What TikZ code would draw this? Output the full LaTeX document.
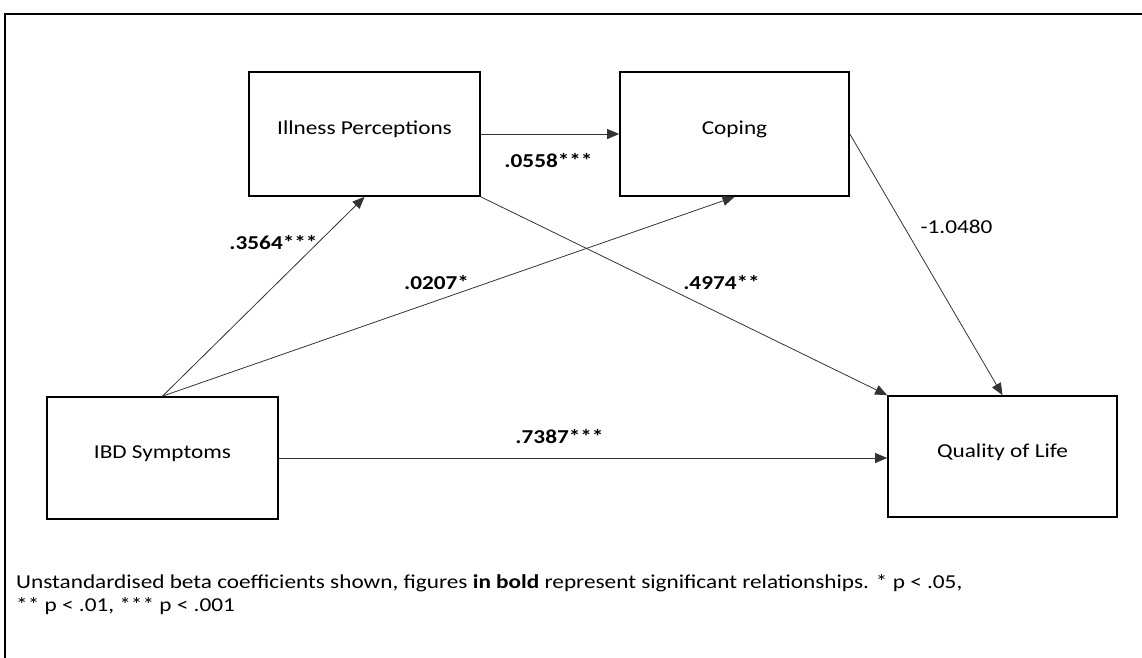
\documentclass[tikz,border=0pt]{standalone}
\usepackage{fontspec}
\setmainfont{Carlito}[FakeStretch=1.18]
\usetikzlibrary{arrows.meta}
\begin{document}
\begin{tikzpicture}[x=1pt,y=-1pt,
  varbox/.style={draw=black,line width=1.7pt,rectangle,inner sep=0pt,
    text height=15pt,text depth=14pt,
    font=\fontsize{19.7}{23}\selectfont},
  path/.style={draw=black!80,line width=0.8pt,-{Triangle[length=12pt,width=10pt]}},
  coef/.style={font=\fontsize{19.7}{23}\selectfont\bfseries,inner sep=0pt},
  plain/.style={font=\fontsize{19.7}{23}\selectfont,inner sep=0pt}]
\useasboundingbox (0,0) rectangle (1142,657);
% outer frame (runs off the right and bottom edges)
\draw[line width=1.6pt] (1150,14) -- (5,14) -- (5,665);

% variables
\node[varbox,minimum width=231pt,minimum height=124pt] (ip)  at (364.5,134) {Illness Perceptions};
\node[varbox,minimum width=229pt,minimum height=124pt] (cop) at (734.5,134) {Coping};
\node[varbox,minimum width=231pt,minimum height=122pt] (ibd) at (162.5,458) {IBD Symptoms};
\node[varbox,minimum width=229pt,minimum height=121pt] (qol) at (1002.5,456.5) {Quality of Life};

% paths
\draw[path] (ibd.north) -- (ip.south);
\draw[path] (ibd.north) -- (cop.south);
\draw[path] (ip.east) -- (cop.west);
\draw[path] (ip.south east) -- (qol.north west);
\draw[path] (cop.east) -- (qol.north);
\draw[path] (ibd.east) -- (qol.west |- ibd.east);

% coefficients
\node[coef] (c1) at (273.5,243) {.3564***};
\node[coef] (c2) at (436.5,283) {.0207*};
\node[coef] (c3) at (548.5,161) {.0558***};
\node[coef] (c4) at (721.5,283) {.4974**};
\node[plain] (c5) at (956.5,227) {-1.0480};
\node[coef] (c6) at (559.5,437) {.7387***};

% note
\node[plain,anchor=base west,align=left] (note) at (16,611)
  {Unstandardised beta coefficients shown, figures \textbf{in bold} represent significant relationships. * p < .05,\\
   ** p < .01, *** p < .001};
\end{tikzpicture}
\end{document}
